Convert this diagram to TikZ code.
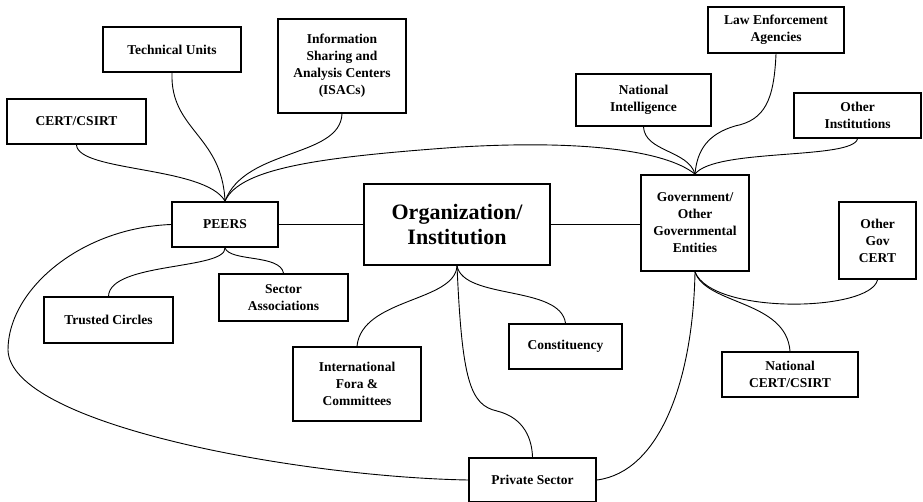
\documentclass[tikz,border=0pt]{standalone}
\usepackage{fontspec}
\setmainfont{Liberation Serif}
\begin{document}
\begin{tikzpicture}[x=1pt,y=-1pt,
  box/.style={draw, line width=1.8pt, align=center, inner sep=0pt,
    font=\bfseries\fontsize{13.5}{17}\selectfont},
  bigbox/.style={box, font=\bfseries\fontsize{22}{25}\selectfont},
  link/.style={line width=0.9pt}]
\useasboundingbox (0,0) rectangle (923,502);
\node[box, minimum width=138pt, minimum height=45pt] (tech) at (172,49.5) {Technical Units};
\node[box, minimum width=128pt, minimum height=94pt] (isac) at (342,66) {Information\\Sharing and\\Analysis Centers\\(ISACs)};
\node[box, minimum width=139pt, minimum height=45pt] (cert) at (76.5,121.5) {CERT/CSIRT};
\node[box, minimum width=106pt, minimum height=45pt] (peers) at (225,224.5) {PEERS};
\node[bigbox, minimum width=186pt, minimum height=81pt] (org) at (457,224.5) {Organization/\\Institution};
\node[box, minimum width=108pt, minimum height=96pt] (gov) at (695,223) {Government/\\Other\\Governmental\\Entities};
\node[box, minimum width=136pt, minimum height=46pt] (law) at (776,30) {Law Enforcement\\Agencies};
\node[box, minimum width=135pt, minimum height=52pt] (natint) at (643.5,100) {National\\Intelligence};
\node[box, minimum width=127pt, minimum height=45pt] (othinst) at (857.5,115.5) {Other\\Institutions};
\node[box, minimum width=77pt, minimum height=77pt] (othgov) at (877.5,240.5) {Other\\Gov\\CERT};
\node[box, minimum width=129pt, minimum height=46pt] (trusted) at (108.5,320) {Trusted Circles};
\node[box, minimum width=129pt, minimum height=47pt] (sector) at (283.5,297.5) {Sector\\Associations};
\node[box, minimum width=128pt, minimum height=74pt] (intl) at (357,384) {International\\Fora \&\\Committees};
\node[box, minimum width=113pt, minimum height=45pt] (const) at (565.5,346.5) {Constituency};
\node[box, minimum width=136pt, minimum height=45pt] (natcert) at (790,374.5) {National\\CERT/CSIRT};
\node[box, minimum width=127pt, minimum height=44pt] (priv) at (532.5,480) {Private Sector};

% straight links
\draw[link] (peers.east) -- (org.west);
\draw[link] (org.east) -- (gov.west |- org.east);

% PEERS top fan
\draw[link] (cert.south) .. controls (78,172) and (205,166) .. (peers.north);
\draw[link] (tech.south) .. controls (170,130) and (222,135) .. (peers.north);
\draw[link] (isac.south) .. controls (340,158) and (245,148) .. (peers.north);
\draw[link] (peers.north) .. controls (240,168) and (320,157) .. (460,147)
  .. controls (580,140) and (665,150) .. (gov.north);

% Gov top fan
\draw[link] (natint.south) .. controls (645,152) and (688,150) .. (gov.north);
\draw[link] (law.south) .. controls (774,100) and (765,120) .. (735,126)
  .. controls (708,134) and (697,150) .. (gov.north);
\draw[link] (othinst.south) .. controls (852,160) and (715,148) .. (gov.north);

% PEERS bottom fan
\draw[link] (peers.south) .. controls (226,270) and (110,262) .. (trusted.north);
\draw[link] (peers.south) .. controls (230,262) and (280,254) .. (sector.north);

% PEERS to Private Sector
\draw[link] (peers.west) .. controls (80,228) and (8,290) .. (8,350)
  .. controls (10,425) and (300,477) .. (priv.west);

% Org bottom fan
\draw[link] (org.south) .. controls (455,302) and (362,298) .. (intl.north);
\draw[link] (org.south) .. controls (464,300) and (560,285) .. (const.north);
\draw[link] (org.south) .. controls (462,380) and (470,405) .. (497,411)
  .. controls (525,418) and (532,440) .. (priv.north);

% Gov bottom fan
\draw[link] (gov.south) .. controls (693,380) and (660,472) .. (priv.east);
\draw[link] (gov.south) .. controls (712,315) and (870,312) .. (othgov.south);
\draw[link] (gov.south) .. controls (706,305) and (786,300) .. (natcert.north);
\end{tikzpicture}
\end{document}
